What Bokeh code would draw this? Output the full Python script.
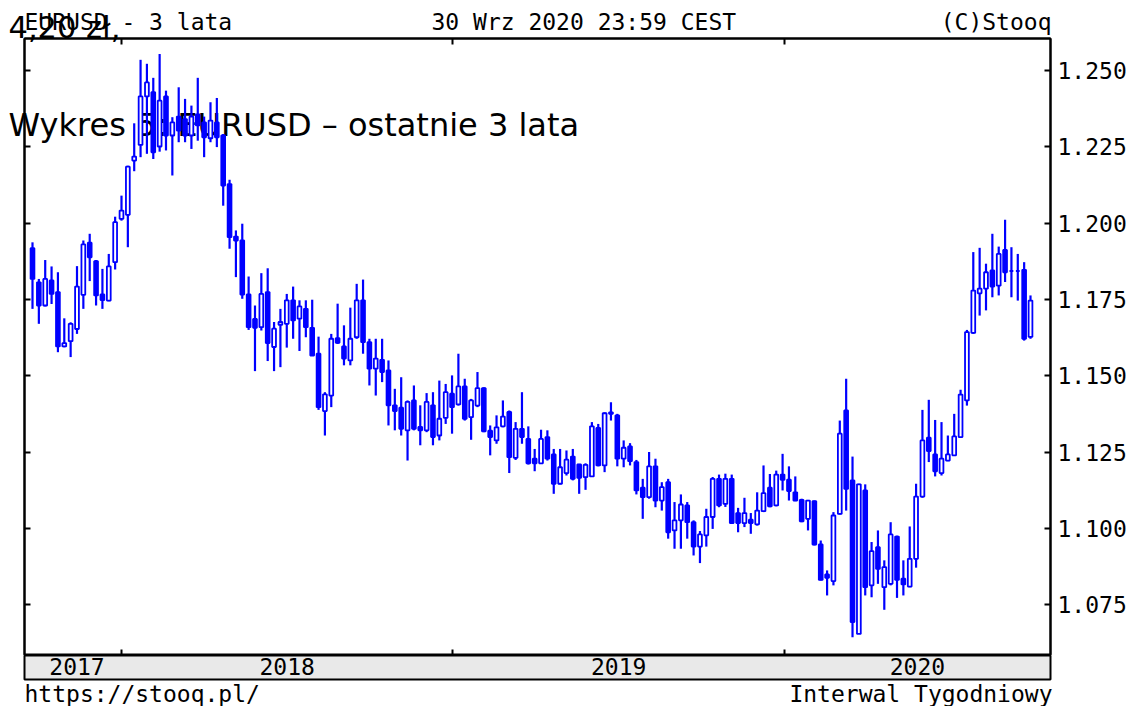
import numpy as np
import pandas as pd
from bokeh.plotting import figure
from bokeh.models import (Range1d, FixedTicker, LinearAxis, NumeralTickFormatter,
                          ColumnDataSource)
from bokeh.layouts import column
from bokeh.embed import file_html
from bokeh.resources import INLINE
from bokeh.core.properties import value

# ---------------- data (weekly EURUSD) ----------------
week_start = "2017-09-25"
opens = [1.1918, 1.1806, 1.1730, 1.1812, 1.1774, 1.1596, 1.1613, 1.1653, 1.1765, 1.1936,
         1.1875, 1.1766, 1.1746, 1.1872, 1.2014, 1.2027, 1.2205, 1.2256, 1.2415, 1.2429,
         1.2251, 1.2415, 1.2287, 1.2349, 1.2341, 1.2287, 1.2356, 1.2330, 1.2278, 1.2330,
         1.2287, 1.2128, 1.1956, 1.1943, 1.1766, 1.1686, 1.1659, 1.1774, 1.1594, 1.1667,
         1.1670, 1.1747, 1.1687, 1.1719, 1.1657, 1.1572, 1.1384, 1.1435, 1.1623, 1.1596,
         1.1550, 1.1626, 1.1747, 1.1610, 1.1523, 1.1552, 1.1517, 1.1403, 1.1395, 1.1321,
         1.1419, 1.1332, 1.1321, 1.1403, 1.1304, 1.1362, 1.1441, 1.1406, 1.1465, 1.1364,
         1.1402, 1.1459, 1.1320, 1.1288, 1.1334, 1.1381, 1.1231, 1.1326, 1.1293, 1.1228,
         1.1213, 1.1299, 1.1242, 1.1146, 1.1181, 1.1235, 1.1209, 1.1168, 1.1170, 1.1329,
         1.1206, 1.1375, 1.1370, 1.1228, 1.1268, 1.1217, 1.1133, 1.1102, 1.1203, 1.1091,
         1.1151, 1.0993, 1.1026, 1.1075, 1.1020, 1.0940, 1.0977, 1.1037, 1.1162, 1.1080,
         1.1162, 1.1050, 1.1017, 1.1028, 1.1013, 1.1056, 1.1133, 1.1075, 1.1176, 1.1159,
         1.1118, 1.1093, 1.1031, 1.1089, 1.0947, 1.0849, 1.0827, 1.1047, 1.1386, 1.1157,
         1.0654, 1.1124, 1.0813, 1.0938, 1.0807, 1.0818, 1.0973, 1.0835, 1.0809, 1.0900,
         1.1104, 1.1297, 1.1242, 1.1181, 1.1222, 1.1239, 1.1299, 1.1419, 1.1640, 1.1770,
         1.1785, 1.1845, 1.1795, 1.1912, 1.1843, 1.1843, 1.1847, 1.1627]
highs = [1.1937, 1.1817, 1.1879, 1.1858, 1.1839, 1.1688, 1.1675, 1.1859, 1.1943, 1.1965,
         1.1879, 1.1850, 1.1899, 1.2021, 1.2090, 1.2188, 1.2327, 1.2535, 1.2522, 1.2476,
         1.2554, 1.2434, 1.2347, 1.2445, 1.2407, 1.2385, 1.2476, 1.2349, 1.2396, 1.2410,
         1.2292, 1.2142, 1.1976, 1.1998, 1.1825, 1.1730, 1.1836, 1.1852, 1.1676, 1.1719,
         1.1768, 1.1792, 1.1747, 1.1747, 1.1749, 1.1628, 1.1446, 1.1637, 1.1736, 1.1665,
         1.1723, 1.1801, 1.1815, 1.1621, 1.1621, 1.1621, 1.1550, 1.1457, 1.1495, 1.1419,
         1.1468, 1.1403, 1.1443, 1.1446, 1.1484, 1.1473, 1.1501, 1.1572, 1.1490, 1.1424,
         1.1512, 1.1462, 1.1337, 1.1370, 1.1419, 1.1386, 1.1348, 1.1446, 1.1334, 1.1260,
         1.1323, 1.1321, 1.1260, 1.1260, 1.1255, 1.1260, 1.1211, 1.1213, 1.1348, 1.1342,
         1.1380, 1.1413, 1.1375, 1.1288, 1.1279, 1.1224, 1.1162, 1.1250, 1.1228, 1.1151,
         1.1162, 1.1086, 1.1111, 1.1086, 1.1026, 1.0991, 1.1064, 1.1168, 1.1176, 1.1179,
         1.1176, 1.1067, 1.1100, 1.1050, 1.1118, 1.1206, 1.1178, 1.1189, 1.1244, 1.1203,
         1.1170, 1.1097, 1.1093, 1.1091, 1.0960, 1.0862, 1.1053, 1.1353, 1.1490, 1.1235,
         1.1146, 1.1144, 1.0955, 1.0993, 1.0895, 1.1020, 1.0976, 1.0895, 1.1006, 1.1146,
         1.1388, 1.1421, 1.1355, 1.1348, 1.1304, 1.1375, 1.1454, 1.1650, 1.1905, 1.1919,
         1.1867, 1.1965, 1.1923, 1.2011, 1.1921, 1.1899, 1.1872, 1.1763]
lows = [1.1719, 1.1670, 1.1727, 1.1735, 1.1577, 1.1593, 1.1561, 1.1637, 1.1719, 1.1810,
        1.1730, 1.1719, 1.1744, 1.1848, 1.2008, 1.1921, 1.2170, 1.2216, 1.2227, 1.2210,
        1.2234, 1.2238, 1.2156, 1.2265, 1.2265, 1.2243, 1.2270, 1.2216, 1.2265, 1.2249,
        1.2057, 1.1916, 1.1823, 1.1752, 1.1650, 1.1515, 1.1648, 1.1548, 1.1515, 1.1528,
        1.1592, 1.1621, 1.1581, 1.1626, 1.1566, 1.1388, 1.1304, 1.1397, 1.1604, 1.1534,
        1.1534, 1.1621, 1.1572, 1.1468, 1.1435, 1.1479, 1.1337, 1.1321, 1.1304, 1.1222,
        1.1321, 1.1272, 1.1315, 1.1272, 1.1288, 1.1342, 1.1310, 1.1402, 1.1353, 1.1290,
        1.1397, 1.1315, 1.1239, 1.1277, 1.1331, 1.1181, 1.1224, 1.1277, 1.1209, 1.1187,
        1.1211, 1.1222, 1.1113, 1.1144, 1.1173, 1.1157, 1.1113, 1.1126, 1.1168, 1.1203,
        1.1184, 1.1353, 1.1203, 1.1200, 1.1206, 1.1111, 1.1031, 1.1097, 1.1069, 1.1058,
        1.0966, 1.0933, 1.0933, 1.0966, 1.0911, 1.0886, 1.0940, 1.0998, 1.1069, 1.1070,
        1.1015, 1.0987, 1.1004, 1.0982, 1.1009, 1.1053, 1.1069, 1.1072, 1.1124, 1.1091,
        1.1089, 1.1020, 1.0993, 1.0944, 1.0829, 1.0780, 1.0813, 1.1045, 1.1058, 1.0643,
        1.0654, 1.0780, 1.0774, 1.0818, 1.0733, 1.0813, 1.0772, 1.0780, 1.0807, 1.0871,
        1.1100, 1.1217, 1.1170, 1.1173, 1.1220, 1.1239, 1.1297, 1.1402, 1.1637, 1.1697,
        1.1714, 1.1757, 1.1763, 1.1807, 1.1757, 1.1746, 1.1615, 1.1621]
closes = [1.1817, 1.1730, 1.1817, 1.1768, 1.1596, 1.1607, 1.1670, 1.1792, 1.1930, 1.1888,
          1.1763, 1.1748, 1.1858, 1.2003, 1.2041, 1.2185, 1.2218, 1.2415, 1.2461, 1.2232,
          1.2401, 1.2287, 1.2330, 1.2303, 1.2287, 1.2349, 1.2320, 1.2281, 1.2336, 1.2281,
          1.2123, 1.1954, 1.1943, 1.1766, 1.1659, 1.1657, 1.1768, 1.1607, 1.1654, 1.1676,
          1.1747, 1.1681, 1.1727, 1.1659, 1.1566, 1.1397, 1.1439, 1.1621, 1.1608, 1.1556,
          1.1621, 1.1747, 1.1610, 1.1523, 1.1556, 1.1512, 1.1403, 1.1384, 1.1326, 1.1414,
          1.1326, 1.1321, 1.1414, 1.1299, 1.1359, 1.1446, 1.1397, 1.1465, 1.1359, 1.1419,
          1.1459, 1.1318, 1.1299, 1.1331, 1.1366, 1.1233, 1.1326, 1.1299, 1.1213, 1.1213,
          1.1293, 1.1228, 1.1146, 1.1200, 1.1225, 1.1162, 1.1165, 1.1208, 1.1334, 1.1206,
          1.1377, 1.1380, 1.1228, 1.1264, 1.1220, 1.1124, 1.1102, 1.1203, 1.1091, 1.1135,
          1.0987, 1.1026, 1.1078, 1.1020, 1.0940, 1.0980, 1.1037, 1.1162, 1.1075, 1.1162,
          1.1017, 1.1017, 1.1050, 1.1017, 1.1058, 1.1115, 1.1072, 1.1176, 1.1159, 1.1122,
          1.1091, 1.1023, 1.1091, 1.0947, 1.0831, 1.0838, 1.1042, 1.1310, 1.1129, 1.0693,
          1.1144, 1.0807, 1.0925, 1.0867, 1.0873, 1.0980, 1.0831, 1.0816, 1.0900, 1.1104,
          1.1288, 1.1253, 1.1187, 1.1228, 1.1242, 1.1301, 1.1438, 1.1643, 1.1779, 1.1785,
          1.1839, 1.1792, 1.1899, 1.1839, 1.1843, 1.1843, 1.1621, 1.1746]

price_ticks = [1.075, 1.100, 1.125, 1.150, 1.175, 1.200, 1.225, 1.250]
year_labels = ["2017", "2018", "2019", "2020"]
year_bounds = ["2018-01-01", "2019-01-01", "2020-01-01"]

header_left = "EURUSD - 3 lata"
header_mid = "30 Wrz 2020 23:59 CEST"
header_right = "(C)Stooq"
footer_left = "https://stooq.pl/"
footer_right = "Interwal Tygodniowy"
overlay_price = "4,20 zł,"
overlay_title = "Wykres 5: EURUSD – ostatnie 3 lata"

# ---------------- layout geometry (pixels) ----------------
W = 1130
FL, FW = 24, 1026            # frame left and width
FR = W - FL - FW             # right border
TOP, FH = 38, 617            # main frame top border / height
BAND_H, BAND_B = 24, 27      # band frame height / bottom border

BLUE = "#0000ff"
MONO = "DejaVu Sans Mono"
DAY = 86400000.0

dates = pd.date_range(week_start, periods=len(opens), freq="7D")
xs = dates.values.astype("datetime64[ms]").astype("int64").astype(float)
ppd = (FW - 28) / ((len(xs) - 1) * 7)          # pixels per day
x_start = xs[0] - 8 / ppd * DAY
x_end = xs[-1] + 20 / ppd * DAY
Y1 = 1.25 + 32 / 3052.0
Y0 = 1.25 - 585 / 3052.0

x_range = Range1d(x_start, x_end)


def lx(px):
    return x_start + (px - FL) / FW * (x_end - x_start)


def ly(py):
    return Y1 - (py - TOP) / FH * (Y1 - Y0)


def lyb(py):
    return 1 - (py - (TOP + FH)) / BAND_H


src = ColumnDataSource(dict(
    x=xs, o=opens, h=highs, l=lows, c=closes,
    top=[max(a, b) for a, b in zip(opens, closes)],
    bot=[min(a, b) for a, b in zip(opens, closes)],
    fill=["white" if c >= o else BLUE for o, c in zip(opens, closes)],
))

p = figure(width=W, height=TOP + FH, x_range=x_range, y_range=Range1d(Y0, Y1),
           x_axis_type="datetime", x_axis_location=None, y_axis_location=None,
           toolbar_location=None, output_backend="svg",
           min_border_left=FL, min_border_right=FR, min_border_top=TOP, min_border_bottom=0)
p.grid.visible = False
p.outline_line_color = "black"
p.outline_line_width = 2
p.background_fill_color = "white"
p.border_fill_color = "white"


def add_text(fig, x, y, txt, font, size, align="left", level="overlay"):
    fig.text(x=[x], y=[y], text=[txt], text_font=value(font), text_font_size=size,
             text_color="black", text_align=align, text_baseline="alphabetic", level=level)


# overlay title under the candles
add_text(p, lx(8), ly(124), overlay_title, "DejaVu Sans", "32px", level="annotation")

p.segment(x0="x", y0="l", x1="x", y1="h", source=src, line_color=BLUE, line_width=2.2,
          level="overlay")
p.vbar(x="x", width=3.8 / ppd * DAY, top="top", bottom="bot", source=src,
       fill_color="fill", line_color=BLUE, line_width=1.8, level="overlay")

# axes
yt = FixedTicker(ticks=price_ticks, minor_ticks=[])
ax_r = LinearAxis(ticker=yt, formatter=NumeralTickFormatter(format="0.000"))
ax_l = LinearAxis(ticker=FixedTicker(ticks=price_ticks, minor_ticks=[]))
yb_ms = [pd.Timestamp(d).value / 1e6 for d in year_bounds]
ax_t = LinearAxis(ticker=FixedTicker(ticks=yb_ms, minor_ticks=[]))
ax_b = LinearAxis(ticker=FixedTicker(ticks=yb_ms, minor_ticks=[]))
for ax in (ax_r, ax_l, ax_t, ax_b):
    ax.major_tick_in = 6
    ax.major_tick_out = 0
    ax.minor_tick_in = 0
    ax.minor_tick_out = 0
    ax.major_tick_line_width = 2
    ax.major_tick_line_color = "black"
    ax.axis_line_color = "black"
    ax.axis_line_width = 2
for ax in (ax_l, ax_t, ax_b):
    ax.major_label_text_font_size = "0px"
    ax.major_label_text_color = None
    ax.major_label_standoff = 0
ax_r.major_label_text_font = MONO
ax_r.major_label_text_font_size = "23px"
ax_r.major_label_text_color = "black"
ax_r.major_label_standoff = 7
p.add_layout(ax_r, "right")
p.add_layout(ax_l, "left")
p.add_layout(ax_t, "above")
p.add_layout(ax_b, "below")

# header and price overlay
add_text(p, lx(24), ly(21.5), header_left, MONO, "23px")
add_text(p, lx(431), ly(21.5), header_mid, MONO, "23px")
add_text(p, lx(1051), ly(21.5), header_right, MONO, "23px", align="right")
add_text(p, lx(8), ly(27), overlay_price, "DejaVu Sans", "30.5px")

# ---------------- date band ----------------
b = figure(width=W, height=BAND_H + BAND_B, x_range=x_range, y_range=Range1d(0, 1),
           x_axis_location=None, y_axis_location=None,
           toolbar_location=None, output_backend="svg",
           min_border_left=FL, min_border_right=FR, min_border_top=0, min_border_bottom=BAND_B)
b.grid.visible = False
b.background_fill_color = "#e9e9e9"
b.border_fill_color = "white"
b.outline_line_color = "black"
b.outline_line_width = 2

edges = [xs[0]] + yb_ms + [x_end]
mids = [(edges[i] + edges[i + 1]) / 2 for i in range(len(year_labels))]
b.text(x=mids, y=[0.55] * len(mids), text=year_labels, text_font=value(MONO),
       text_font_size="23px", text_align="center", text_baseline="middle", text_color="black")

add_text(b, lx(24), lyb(693), footer_left, MONO, "23px")
add_text(b, lx(1052), lyb(693), footer_right, MONO, "23px", align="right")

layout = column(p, b, spacing=0)
open("out.html", "w").write(file_html(layout, INLINE))
